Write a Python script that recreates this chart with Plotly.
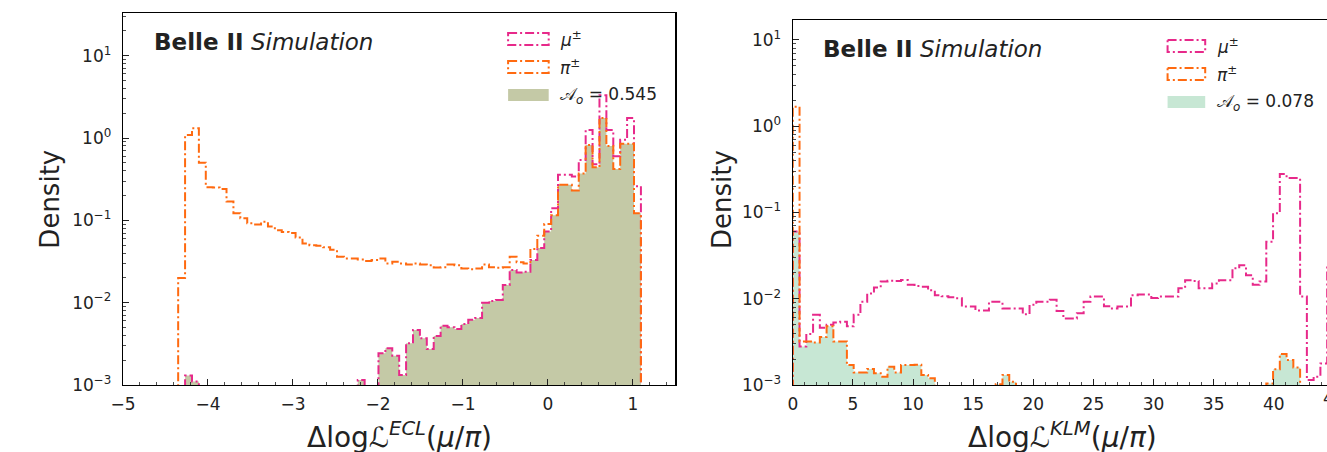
import numpy as np
import plotly.graph_objects as go

W, H = 1327, 452      # reference picture size (coordinates below are in this space)
H_FIG = 462           # figure height; the page capture is squeezed back to 452 px

# ---------------- data (densities per bin, 80 bins) ----------------
ecl_range = [-5.0, 1.5]
klm_range = [0.0, 45.0]
n_bins = 80

ecl_mu = [0, 0, 0, 0, 0, 0, 0, 0, 0, 0.0013,
          0.0011, 0, 0, 0, 0, 0, 0, 0, 0, 0,
          0, 0, 0, 0, 0, 0, 0, 0, 0, 0,
          0, 0, 0, 0, 0.00115, 0, 0, 0.00243, 0.00279, 0.00227,
          0.00132, 0.00321, 0.00466, 0.00369, 0.00274, 0.00394, 0.00525, 0.00502, 0.0048, 0.0055,
          0.0062, 0.0065, 0.0100, 0.0105, 0.0108, 0.0164, 0.0250, 0.0232, 0.0238, 0.033,
          0.046, 0.073, 0.14, 0.357, 0.357, 0.34, 0.54, 1.25, 0.48, 3.3,
          1.25, 0.6, 0.95, 1.75, 0.26, 0, 0, 0, 0, 0]

ecl_pi = [0, 0, 0, 0, 0, 0, 0, 0, 0.020, 1.09,
          1.31, 0.50, 0.253, 0.25, 0.24, 0.169, 0.122, 0.106, 0.092, 0.089,
          0.096, 0.084, 0.076, 0.072, 0.070, 0.062, 0.0525, 0.050, 0.049, 0.047,
          0.044, 0.036, 0.0345, 0.0345, 0.0335, 0.032, 0.033, 0.0345, 0.030, 0.0315,
          0.030, 0.029, 0.030, 0.029, 0.0285, 0.0268, 0.027, 0.029, 0.0285, 0.026,
          0.0255, 0.026, 0.029, 0.027, 0.0265, 0.027, 0.036, 0.031, 0.030, 0.045,
          0.065, 0.09, 0.115, 0.27, 0.27, 0.23, 0.37, 0.82, 0.44, 1.75,
          0.8, 0.42, 0.85, 0.85, 0.122, 0, 0, 0, 0, 0]

klm_mu = [0.06, 0.0028, 0.0039, 0.0065, 0.0046, 0.0050, 0.0053, 0.0054, 0.0048, 0.0065,
          0.0092, 0.0115, 0.0135, 0.0158, 0.0162, 0.016, 0.0165, 0.0145, 0.014, 0.0138,
          0.0125, 0.011, 0.0107, 0.0104, 0.0101, 0.0081, 0.0081, 0.0073, 0.0073, 0.0092,
          0.0092, 0.0077, 0.0077, 0.0077, 0.0066, 0.0085, 0.0092, 0.0092, 0.0097, 0.0072,
          0.0059, 0.0059, 0.0068, 0.0092, 0.0106, 0.0106, 0.0082, 0.0077, 0.0081, 0.0081,
          0.011, 0.0112, 0.0112, 0.0102, 0.0106, 0.0106, 0.0106, 0.0132, 0.0164, 0.016,
          0.0132, 0.0132, 0.015, 0.0164, 0.0164, 0.0225, 0.0245, 0.0187, 0.0145, 0.0158,
          0.0458, 0.098, 0.279, 0.25, 0.25, 0.0106, 0.00114, 0.00125, 0.00178, 0.023]

klm_pi = [1.68, 0.0032, 0.0032, 0.0031, 0.0036, 0.0048, 0.0032, 0.0032, 0.0017, 0.0014,
          0.0014, 0.00153, 0.00137, 0.00125, 0.00163, 0.0014, 0.0017, 0.0017, 0.00172, 0.00131,
          0.0012, 0, 0, 0, 0, 0, 0, 0, 0, 0,
          0.00102, 0.00131, 0.00109, 0, 0, 0, 0, 0, 0, 0,
          0, 0, 0, 0, 0, 0, 0, 0, 0, 0,
          0, 0, 0, 0, 0, 0, 0, 0, 0, 0,
          0, 0, 0, 0, 0, 0, 0, 0, 0, 0,
          0.00104, 0.00152, 0.00229, 0.00195, 0.0016, 0, 0, 0, 0, 0]

ecl_overlap = "0.545"
klm_overlap = "0.078"

ytick_vals = [1e-3, 1e-2, 1e-1, 1e0, 1e1]
ytick_text = ["10<sup>\u22123</sup>", "10<sup>\u22122</sup>", "10<sup>\u22121</sup>",
              "10<sup>0</sup>", "10<sup>1</sup>"]

# ---------------- style ----------------
PINK = "#e7298a"
ORANGE = "#ff6a10"
FILL_ECL = "#c4c9a6"
FILL_KLM = "#c7e7d4"
FONT = "DejaVu Sans"
DASH = "9px,3px,2px,3px"
LW = 2.0
FLOOR = 1e-6


def step_xy(rng, vals):
    edges = np.linspace(rng[0], rng[1], n_bins + 1)
    v = np.array(vals, dtype=float)
    v = np.where(v > 0, v, FLOOR)
    xs = np.concatenate([[edges[0]], edges])
    ys = np.concatenate([[FLOOR], v, [FLOOR]])
    return xs, ys


def px(x):
    return x / W


def py(y):
    return 1 - y / H


# panel geometry in (reference) pixels
L_x = (111, 669)
L_y = (13, 385)
R_x0 = 787.5
R_xfull = 1334.0  # where x=45 would sit (beyond the page)
R_y = (20, 385)
r_end = klm_range[0] + (klm_range[1] - klm_range[0]) * (W - R_x0) / (R_xfull - R_x0)

fig = go.Figure()

panels = [
    (ecl_range, ecl_mu, ecl_pi, FILL_ECL, "x", "y"),
    (klm_range, klm_mu, klm_pi, FILL_KLM, "x2", "y2"),
]
for rng, mu, pi, fcol, xa, ya in panels:
    ov = np.minimum(np.array(mu, float), np.array(pi, float))
    xs, ys = step_xy(rng, ov)
    fig.add_trace(go.Scatter(x=xs, y=ys, mode="lines", line=dict(width=0, shape="hv"),
                             fill="toself", fillcolor=fcol, xaxis=xa, yaxis=ya,
                             showlegend=False, hoverinfo="skip"))
    xs, ys = step_xy(rng, mu)
    fig.add_trace(go.Scatter(x=xs, y=ys, mode="lines",
                             line=dict(color=PINK, width=LW, shape="hv", dash=DASH),
                             xaxis=xa, yaxis=ya, showlegend=False))
    xs, ys = step_xy(rng, pi)
    fig.add_trace(go.Scatter(x=xs, y=ys, mode="lines",
                             line=dict(color=ORANGE, width=LW, shape="hv", dash=DASH),
                             xaxis=xa, yaxis=ya, showlegend=False))

minor_y = [m * 10.0 ** e for e in range(-3, 2) for m in range(2, 10)]

TICKFONT = dict(family=FONT, size=17, color="#222")
common_x = dict(showline=True, linecolor="black", linewidth=1.2, mirror=True,
                showgrid=False, zeroline=False, ticks="inside", ticklen=6, tickwidth=1,
                tickcolor="#222", tickfont=TICKFONT, ticklabelstandoff=3)
common_y = dict(type="log", showline=True, linecolor="black", linewidth=1.2,
                showgrid=False, zeroline=False, ticks="inside", ticklen=6, tickwidth=1,
                tickcolor="#222", tickmode="array", tickvals=ytick_vals, ticktext=ytick_text,
                tickfont=TICKFONT,
                minor=dict(tickmode="array", tickvals=minor_y, ticks="inside", ticklen=3,
                           tickwidth=0.8, tickcolor="#222"),
                ticklabelstandoff=7)

fig.update_layout(
    width=W, height=H_FIG, margin=dict(l=0, r=0, t=0, b=0),
    paper_bgcolor="white", plot_bgcolor="white", showlegend=False,
    font=dict(family=FONT, color="#222"),
    xaxis=dict(domain=[px(L_x[0]), px(L_x[1])], range=ecl_range, anchor="y",
               tickmode="linear", tick0=-5, dtick=1,
               minor=dict(dtick=0.2, ticks="inside", ticklen=3, tickwidth=0.8, tickcolor="#222"),
               **common_x),
    yaxis=dict(domain=[py(L_y[1]), py(L_y[0])], range=[-3, np.log10(33)], anchor="x",
               mirror=True, **common_y),
    xaxis2=dict(domain=[px(R_x0), 1.0], range=[klm_range[0], r_end], anchor="y2",
                tickmode="linear", tick0=0, dtick=5,
                minor=dict(dtick=1, ticks="inside", ticklen=3, tickwidth=0.8, tickcolor="#222"),
                **common_x),
    yaxis2=dict(domain=[py(R_y[1]), py(R_y[0])], range=[-3, np.log10(17)], anchor="x2",
                mirror=False, **common_y),
)

ann = []
# experiment labels
for bx, by in ((140, 42), (816, 49)):
    ann.append(dict(x=px(bx), y=py(by), xref="paper", yref="paper", xanchor="left",
                    yanchor="middle", text="<b>Belle II</b> <i>Simulation</i>", showarrow=False,
                    font=dict(family=FONT, size=23, color="#222")))

# axis titles
for xc in (37, 716):
    ann.append(dict(x=px(xc), y=py(199), xref="paper", yref="paper", xanchor="center",
                    yanchor="middle", text="Density", textangle=-90, showarrow=False,
                    font=dict(family=FONT, size=26, color="#222")))
ann.append(dict(x=px(390), y=py(435), xref="paper", yref="paper", xanchor="center", yanchor="middle",
                text="\u0394log\u2112<sup><i>ECL</i></sup>(<i>\u03bc</i>/<i>\u03c0</i>)",
                showarrow=False, font=dict(family=FONT, size=28, color="#222")))
ann.append(dict(x=px(1060), y=py(435), xref="paper", yref="paper", xanchor="center", yanchor="middle",
                text="\u0394log\u2112<sup><i>KLM</i></sup>(<i>\u03bc</i>/<i>\u03c0</i>)",
                showarrow=False, font=dict(family=FONT, size=28, color="#222")))
# partially visible "45" tick label at the page edge
ann.append(dict(x=px(R_xfull), y=py(398), xref="paper", yref="paper", xanchor="center",
                yanchor="middle", text="45", showarrow=False, font=TICKFONT))

# legends (drawn by hand to mimic patch handles)
shapes = []
legends = [
    (500, 541, 39, 28, FILL_ECL, ecl_overlap, 550),
    (1166, 1204, 46, 28, FILL_KLM, klm_overlap, 1214),
]
for x0, x1, yc, dy, fcol, ov, tx in legends:
    hh = 6
    shapes.append(dict(type="rect", xref="paper", yref="paper", x0=px(x0), x1=px(x1),
                       y0=py(yc - hh), y1=py(yc + hh), line=dict(color=PINK, width=2, dash=DASH)))
    shapes.append(dict(type="rect", xref="paper", yref="paper", x0=px(x0), x1=px(x1),
                       y0=py(yc + dy - hh), y1=py(yc + dy + hh),
                       line=dict(color=ORANGE, width=2, dash=DASH)))
    shapes.append(dict(type="rect", xref="paper", yref="paper", x0=px(x0), x1=px(x1),
                       y0=py(yc + 2 * dy - hh), y1=py(yc + 2 * dy + hh),
                       line=dict(width=0), fillcolor=fcol))
    for i, t in enumerate(["<i>\u03bc</i><sup>\u00b1</sup>", "<i>\u03c0</i><sup>\u00b1</sup>",
                           "\U0001D49C<sub><i>o</i></sub> = " + ov]):
        ann.append(dict(x=px(tx), y=py(yc + i * dy), xref="paper", yref="paper",
                        xanchor="left", yanchor="middle", text=t, showarrow=False,
                        font=dict(family=FONT, size=17, color="#222")))

fig.update_layout(annotations=ann, shapes=shapes)
fig.write_html("out.html",
               config={"displayModeBar": False, "staticPlot": True},
               post_script="document.documentElement.style.margin='0px';"
                           "document.documentElement.style.overflow='hidden';"
                           "document.body.style.margin='0px';"
                           "document.body.style.overflow='hidden';")
